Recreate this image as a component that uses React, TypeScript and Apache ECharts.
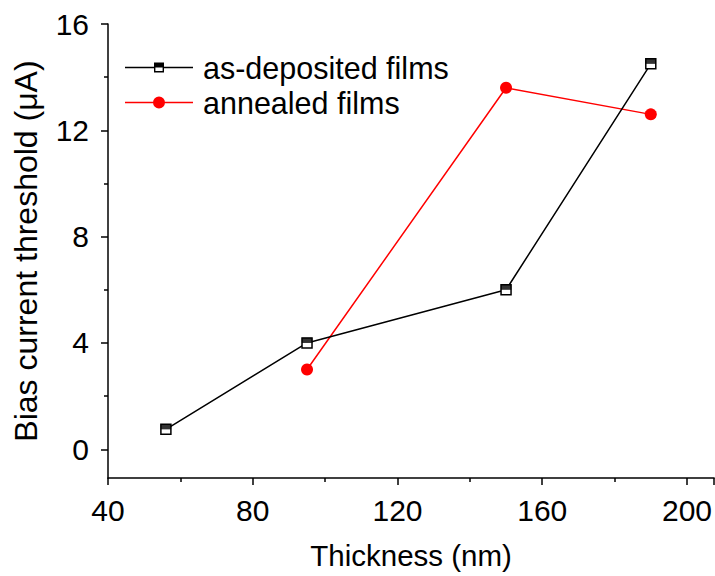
import React, { useEffect, useRef } from "react";
import * as echarts from "echarts";

const seriesNames = ["as-deposited films", "annealed films"];
const thicknessDeposited = [56, 95, 150, 190];
const thresholdDeposited = [0.75, 4, 6, 14.5];
const thicknessAnnealed = [95, 150, 190];
const thresholdAnnealed = [3, 13.6, 12.6];
const yTickValues = [0, 4, 8, 12, 16];
const yMinorTickValues = [2, 6, 10, 14];
const xAxisTitle = "Thickness (nm)";
const yAxisTitle = "Bias current threshold (\u03BCA)";

const FONT = "Liberation Sans, Arial, sans-serif";

const blackIcon =
  "path://M0,0L0,0Z M68,12L68,12Z M0,5.3H29V6.7H0Z M29,1H39V11H29Z M30.4,2.4V9.6H37.6V2.4Z M30.4,2.4H37.6V6H30.4Z M39,5.3H68V6.7H39Z";
const redIcon =
  "path://M0,5.3H29V6.7H0Z M39,5.3H68V6.7H39Z M28,6A6,6 0 1,1 40,6A6,6 0 1,1 28,6Z";

export default function App() {
  const ref = useRef<HTMLDivElement>(null);
  useEffect(() => {
    if (!ref.current) return;
    const chart = echarts.init(ref.current, null, { renderer: "svg" });
    const dep = thicknessDeposited.map((x, i) => [x, thresholdDeposited[i]]);
    const ann = thicknessAnnealed.map((x, i) => [x, thresholdAnnealed[i]]);
    const yCommon = {
      type: "value",
      min: -1.08,
      max: 16,
      splitLine: { show: false },
    };
    chart.setOption({
      animation: false,
      backgroundColor: "#fff",
      textStyle: { fontFamily: FONT },
      grid: { left: 108, top: 24, right: 0, bottom: 98, containLabel: false },
      legend: {
        orient: "vertical",
        left: 120,
        top: 47,
        itemWidth: 68,
        itemHeight: 12,
        itemGap: 4,
        textStyle: {
          fontFamily: FONT,
          fontSize: 30.5,
          color: "#000",
          lineHeight: 30,
          padding: [0, 0, 0, 5],
        },
        data: [
          { name: seriesNames[0], icon: blackIcon, itemStyle: { color: "#000", borderWidth: 0 } },
          { name: seriesNames[1], icon: redIcon, itemStyle: { color: "#ff0000", borderWidth: 0 } },
        ],
      },
      xAxis: {
        type: "value",
        min: 40,
        max: 207.5,
        interval: 40,
        name: xAxisTitle,
        nameLocation: "middle",
        nameGap: 62,
        nameTextStyle: { fontFamily: FONT, fontSize: 29.5, color: "#000" },
        axisLine: { show: true, onZero: false, lineStyle: { color: "#000", width: 1.5 } },
        axisTick: { show: true, inside: false, length: 7, lineStyle: { color: "#000", width: 1.5 } },
        minorTick: { show: true, splitNumber: 2, length: 4, lineStyle: { color: "#000", width: 1.5 } },
        axisLabel: { fontFamily: FONT, fontSize: 30, color: "#000", margin: 17 },
        splitLine: { show: false },
      },
      yAxis: [
        {
          ...yCommon,
          name: yAxisTitle,
          nameLocation: "middle",
          nameGap: 66,
          nameTextStyle: { fontFamily: FONT, fontSize: 32, color: "#000" },
          axisLine: { show: true, onZero: false, lineStyle: { color: "#000", width: 1.5 } },
          axisTick: {
            show: true,
            inside: false,
            length: 7,
            customValues: yTickValues,
            lineStyle: { color: "#000", width: 1.5 },
          },
          axisLabel: {
            fontFamily: FONT,
            fontSize: 30,
            color: "#000",
            margin: 19,
            customValues: yTickValues,
          },
        },
        {
          ...yCommon,
          position: "left",
          offset: 0,
          axisLine: { show: false },
          axisLabel: { show: false },
          axisTick: {
            show: true,
            inside: false,
            length: 4,
            customValues: yMinorTickValues,
            lineStyle: { color: "#000", width: 1.5 },
          },
        },
      ],
      series: [
        {
          name: seriesNames[0],
          type: "line",
          data: dep,
          symbol: "rect",
          symbolSize: 10,
          lineStyle: { color: "#000", width: 1.5 },
          itemStyle: { color: "#fff", borderColor: "#000", borderWidth: 1.5 },
          z: 3,
        },
        {
          name: "deposited-top",
          type: "scatter",
          data: dep,
          symbol: "rect",
          symbolSize: [10.5, 5.2],
          symbolOffset: [0, -2.6],
          itemStyle: { color: "#000", borderWidth: 0 },
          silent: true,
          z: 4,
        },
        {
          name: seriesNames[1],
          type: "line",
          data: ann,
          symbol: "circle",
          symbolSize: 12,
          lineStyle: { color: "#ff0000", width: 1.5 },
          itemStyle: { color: "#ff0000", borderWidth: 0 },
          z: 2,
        },
      ],
    });
    return () => chart.dispose();
  }, []);
  return (
    <div
      ref={ref}
      style={{ position: "fixed", left: 0, top: 0, width: 715, height: 576 }}
    />
  );
}
